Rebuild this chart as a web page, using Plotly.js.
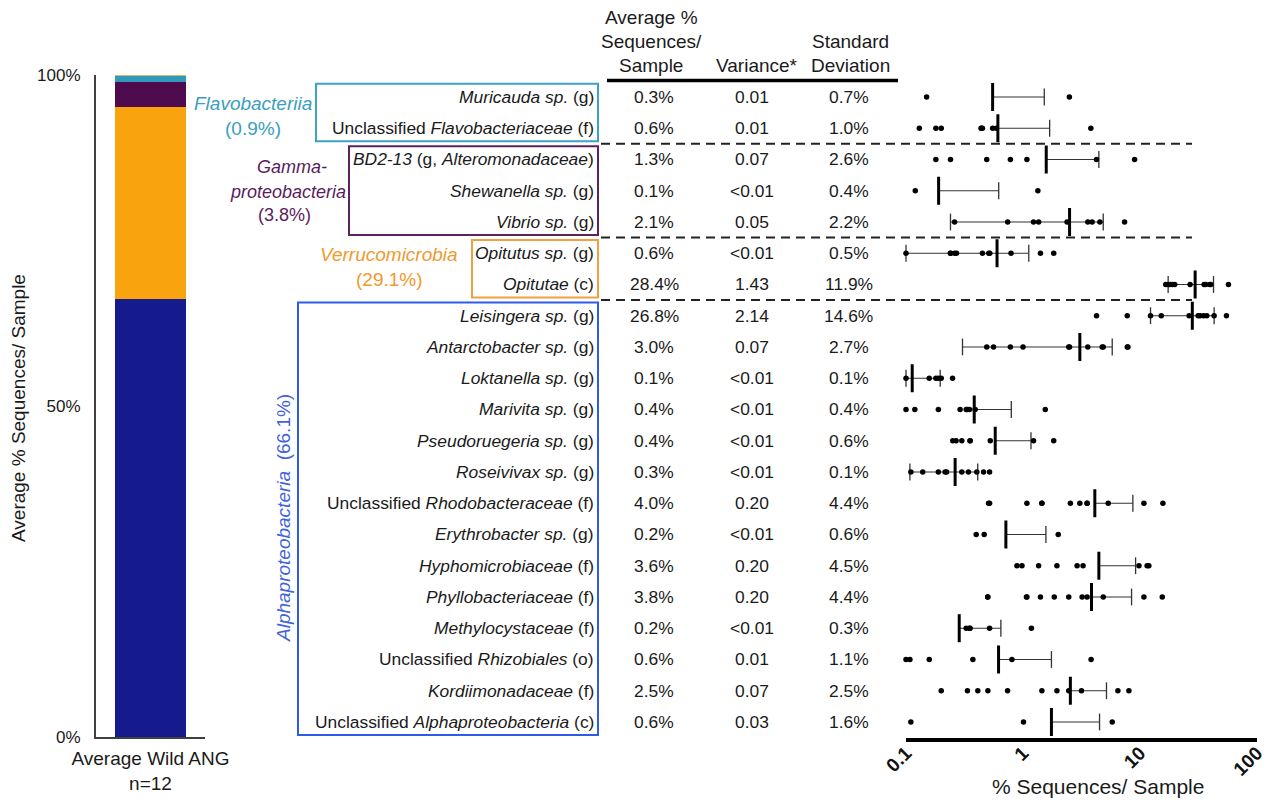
<!DOCTYPE html>
<html><head><meta charset="utf-8">
<script src="https://cdn.plot.ly/plotly-3.0.1.min.js"></script>
<style>html,body{margin:0;padding:0;background:#fff}#chart{width:1268px;height:800px}</style>
</head><body><div id="chart"></div>
<script>
// ---------------- DATA ----------------
const rowLabels = [
  '<i>Muricauda sp.</i> (g)',
  'Unclassified <i>Flavobacteriaceae</i> (f)',
  '<i>BD2-13</i> (g, <i>Alteromonadaceae</i>)',
  '<i>Shewanella sp.</i> (g)',
  '<i>Vibrio sp.</i> (g)',
  '<i>Opitutus sp.</i> (g)',
  '<i>Opitutae</i> (c)',
  '<i>Leisingera sp.</i> (g)',
  '<i>Antarctobacter sp.</i> (g)',
  '<i>Loktanella sp.</i> (g)',
  '<i>Marivita sp.</i> (g)',
  '<i>Pseudoruegeria sp.</i> (g)',
  '<i>Roseivivax sp.</i> (g)',
  'Unclassified <i>Rhodobacteraceae</i> (f)',
  '<i>Erythrobacter sp.</i> (g)',
  '<i>Hyphomicrobiaceae</i> (f)',
  '<i>Phyllobacteriaceae</i> (f)',
  '<i>Methylocystaceae</i> (f)',
  'Unclassified <i>Rhizobiales</i> (o)',
  '<i>Kordiimonadaceae</i> (f)',
  'Unclassified <i>Alphaproteobacteria</i> (c)'
];
const avgPct = ['0.3%','0.6%','1.3%','0.1%','2.1%','0.6%','28.4%','26.8%','3.0%','0.1%','0.4%','0.4%','0.3%','4.0%','0.2%','3.6%','3.8%','0.2%','0.6%','2.5%','0.6%'];
const variance = ['0.01','0.01','0.07','&lt;0.01','0.05','&lt;0.01','1.43','2.14','0.07','&lt;0.01','&lt;0.01','&lt;0.01','&lt;0.01','0.20','&lt;0.01','0.20','0.20','&lt;0.01','0.01','0.07','0.03'];
const stdDev = ['0.7%','1.0%','2.6%','0.4%','2.2%','0.5%','11.9%','14.6%','2.7%','0.1%','0.4%','0.6%','0.1%','4.4%','0.6%','4.5%','4.4%','0.3%','1.1%','2.5%','1.6%'];

// per-sample % sequences (non-zero samples shown on log axis)
const samplePoints = [
  [0.15, 2.49],
  [0.13, 0.18, 0.20, 0.44, 0.44, 0.45, 0.55, 0.59, 3.8],
  [0.18, 0.24, 0.49, 0.78, 1.08, 4.25, 8.99],
  [0.12, 1.34],
  [0.26, 0.74, 1.23, 1.36, 2.38, 3.58, 3.90, 4.54, 7.38],
  [0.10, 0.24, 0.24, 0.26, 0.27, 0.45, 0.51, 0.52, 0.79, 1.41, 1.83],
  [16.6, 17.4, 18.0, 18.9, 19.8, 26.8, 35.3, 36.5, 39.5, 40.3, 57.0],
  [4.25, 7.78, 12.3, 15.2, 26.3, 31.4, 32.6, 34.9, 37.2, 43.0, 54.8],
  [0.49, 0.56, 0.78, 1.0, 2.46, 2.50, 3.58, 4.75, 4.85, 7.78, 7.89],
  [0.10, 0.158, 0.18, 0.189, 0.20, 0.25],
  [0.10, 0.119, 0.189, 0.29, 0.327, 0.335, 0.349, 0.39, 1.55],
  [0.251, 0.268, 0.30, 0.353, 0.353, 0.525, 1.23, 1.83],
  [0.11, 0.139, 0.189, 0.216, 0.222, 0.30, 0.342, 0.403, 0.46, 0.518],
  [0.508, 0.518, 1.08, 1.45, 1.45, 2.54, 3.06, 3.53, 3.53, 5.35, 10.8, 15.7],
  [0.398, 0.466, 2.0],
  [0.888, 0.98, 1.36, 1.95, 2.90, 3.26, 9.8, 11.5, 11.9],
  [0.50, 0.50, 1.07, 1.08, 1.41, 1.85, 2.46, 3.20, 3.53, 4.85, 10.8, 15.5],
  [0.327, 0.349, 0.353, 0.518, 1.18],
  [0.10, 0.108, 0.158, 0.373, 0.804, 3.82],
  [0.20, 0.335, 0.411, 0.501, 0.738, 1.45, 1.95, 2.46, 3.16, 6.47, 8.04],
  [0.11, 1.01, 5.79]
];
const meanValues = [0.55, 0.61, 1.58, 0.19, 2.50, 0.60, 29.6, 28.0, 3.06, 0.113, 0.383, 0.579, 0.263, 4.11, 0.714, 4.45, 3.85, 0.285, 0.618, 2.54, 1.75];
const barLow  = [null, null, null, null, 0.24, 0.10, 17.4, 12.3, 0.304, 0.10, null, null, 0.108, null, null, null, null, null, null, null, null];
const barHigh = [1.52, 1.69, 4.45, 0.62, 4.85, 1.12, 42.5, 43.0, 5.79, 0.196, 0.794, 1.17, 0.41, 8.69, 1.57, 9.17, 8.47, 0.647, 1.75, 5.17, 4.51];

const groupNames = ['Flavobacteriia', 'Gammaproteobacteria', 'Verrucomicrobia', 'Alphaproteobacteria'];
const groupShare = [0.9, 3.8, 29.1, 66.1];
const groupFirstRow = [0, 2, 5, 7];
const groupLastRow = [1, 4, 6, 20];
const otherShare = 0.1;
const barCategory = ['Average Wild ANG<br>n=12'];
const yTickVals = [0, 50, 100];
const yTickText = ['0%', '50%', '100%'];
const tickVals = [0.1, 1, 10, 100];
const tickText = ['0.1', '1', '10', '100'];

// ---------------- STYLE / LAYOUT HELPERS ----------------
const W = 1268, H = 800;
const px = v => v / W;
const py = v => 1 - v / H;
const FONT = 'Liberation Sans, Arial, sans-serif';
const TXT = '#1a1a1a';
const barColors = ['#3399BB', '#4E0B4E', '#F9A40E', '#151B8C'];
const labelColors = ['#3A9EC0', '#5B1C5E', '#F2992E', '#3F63DE'];
const boxColors = ['#3BA3C3', '#5B2160', '#F0A040', '#2F5BE8'];
const boxLeftPx = [316, 349, 472, 298];

// ---------------- TRACES ----------------
const traces = [];
[3, 2, 1, 0].forEach(g => {
  traces.push({type: 'bar', x: barCategory, y: [groupShare[g]], name: groupNames[g],
    marker: {color: barColors[g], line: {width: 0}}, xaxis: 'x2', yaxis: 'y2', hoverinfo: 'name+y'});
});
traces.push({type: 'bar', x: barCategory, y: [otherShare], name: 'Other',
  marker: {color: '#D8B46A', line: {width: 0}}, xaxis: 'x2', yaxis: 'y2', hoverinfo: 'name+y'});

const ex = [], ey = [];
meanValues.forEach((m, i) => {
  ex.push(barLow[i] !== null ? barLow[i] : m, barHigh[i], null);
  ey.push(i, i, null);
});
traces.push({type: 'scatter', mode: 'lines', x: ex, y: ey, line: {color: '#333', width: 1.2},
  hoverinfo: 'skip', cliponaxis: false, xaxis: 'x', yaxis: 'y'});
const cx = [], cy = [];
barHigh.forEach((h, i) => { cx.push(h); cy.push(i); if (barLow[i] !== null) { cx.push(barLow[i]); cy.push(i); } });
traces.push({type: 'scatter', mode: 'markers', x: cx, y: cy, cliponaxis: false,
  marker: {symbol: 'line-ns', size: 12, line: {color: '#333', width: 1.3}}, hoverinfo: 'skip'});
const dx = [], dy = [];
samplePoints.forEach((arr, i) => arr.forEach(v => { dx.push(v); dy.push(i); }));
traces.push({type: 'scatter', mode: 'markers', x: dx, y: dy, cliponaxis: false,
  marker: {symbol: 'circle', size: 5.5, color: '#000'}, hoverinfo: 'x'});
traces.push({type: 'scatter', mode: 'markers', x: meanValues, y: meanValues.map((_, i) => i), cliponaxis: false,
  marker: {symbol: 'line-ns', size: 20, line: {color: '#000', width: 3}}, hoverinfo: 'x'});

// ---------------- ANNOTATIONS ----------------
const ann = [];
const A = (o) => ann.push(Object.assign({showarrow: false, xanchor: 'center', yanchor: 'middle',
  font: {family: FONT, size: 17.4, color: TXT}}, o));

rowLabels.forEach((t, i) => {
  A({text: t, xref: 'paper', yref: 'y', x: px(596), y: i, xanchor: 'right'});
  A({text: avgPct[i], xref: 'paper', yref: 'y', x: px(654), y: i});
  A({text: variance[i], xref: 'paper', yref: 'y', x: px(752), y: i});
  A({text: stdDev[i], xref: 'paper', yref: 'y', x: px(849), y: i});
});
const hdrFont = {family: FONT, size: 19, color: TXT};
[['Average %', 651, 18], ['Sequences/', 651, 42], ['Sample', 651, 65],
 ['Variance*', 757, 65], ['Standard', 850, 42], ['Deviation', 850, 65]].forEach(h => {
  A({text: h[0], xref: 'paper', yref: 'paper', x: px(h[1]), y: py(h[2]), font: hdrFont});
});
const gFont = (c, s) => ({family: FONT, size: s || 19, color: c});
A({text: '<i>Flavobacteriia</i>', xref: 'paper', yref: 'paper', x: px(253), y: py(103), font: gFont(labelColors[0])});
A({text: '(' + groupShare[0].toFixed(1) + '%)', xref: 'paper', yref: 'paper', x: px(253), y: py(128), font: gFont(labelColors[0])});
A({text: '<i>Gamma-</i>', xref: 'paper', yref: 'paper', x: px(292), y: py(167), font: gFont(labelColors[1], 18)});
A({text: '<i>proteobacteria</i>', xref: 'paper', yref: 'paper', x: px(288), y: py(192), font: gFont(labelColors[1], 18)});
A({text: '(' + groupShare[1].toFixed(1) + '%)', xref: 'paper', yref: 'paper', x: px(284), y: py(215), font: gFont(labelColors[1], 18)});
A({text: '<i>Verrucomicrobia</i>', xref: 'paper', yref: 'paper', x: px(389), y: py(255), font: gFont(labelColors[2])});
A({text: '(' + groupShare[2].toFixed(1) + '%)', xref: 'paper', yref: 'paper', x: px(390), y: py(279), font: gFont(labelColors[2])});
A({text: '<i>Alphaproteobacteria</i> &nbsp;(' + groupShare[3].toFixed(1) + '%)', xref: 'paper', yref: 'paper',
   x: px(283), y: py(518), textangle: -90, font: gFont(labelColors[3])});
A({text: 'Average % Sequences/ Sample', xref: 'paper', yref: 'paper', x: px(18), y: py(408), textangle: -90,
   font: {family: FONT, size: 19, color: TXT}});
A({text: '% Sequences/ Sample', xref: 'paper', yref: 'paper', x: px(1098), y: py(786),
   font: {family: FONT, size: 21, color: TXT}});

// ---------------- SHAPES ----------------
const shapes = [];
groupNames.forEach((g, k) => {
  shapes.push({type: 'rect', xref: 'paper', yref: 'y', x0: px(boxLeftPx[k]), x1: px(598),
    y0: groupFirstRow[k] - 0.42, y1: groupLastRow[k] + 0.42, line: {color: boxColors[k], width: 2}, fillcolor: 'rgba(0,0,0,0)'});
  if (k < groupNames.length - 1) {
    shapes.push({type: 'line', xref: 'paper', yref: 'y', x0: px(601), x1: px(1192),
      y0: groupLastRow[k] + 0.5, y1: groupLastRow[k] + 0.5, line: {color: '#222', width: 2, dash: '9px,6px'}});
  }
});
shapes.push({type: 'line', xref: 'paper', yref: 'paper', x0: px(607), x1: px(898), y0: py(80.5), y1: py(80.5),
  line: {color: '#000', width: 3.5}});

// ---------------- LAYOUT ----------------
const layout = {
  width: W, height: H, margin: {l: 0, r: 0, t: 0, b: 0},
  paper_bgcolor: '#fff', plot_bgcolor: 'rgba(0,0,0,0)', showlegend: false,
  barmode: 'stack', bargap: 0.34,
  font: {family: FONT, color: TXT},
  xaxis: {type: 'log', range: [-1, 2], domain: [px(906), px(1257)], anchor: 'y',
    showline: true, linecolor: '#000', linewidth: 4, showgrid: false, zeroline: false, ticks: '',
    tickvals: tickVals, ticktext: tickText, tickangle: -45, ticklabelstandoff: -7,
    tickfont: {family: FONT, size: 19, weight: 'bold', color: '#111'}},
  yaxis: {range: [20.5, -0.6], domain: [py(737.6), py(78.25)], anchor: 'x', visible: false, showgrid: false, zeroline: false},
  xaxis2: {domain: [px(96), px(205)], anchor: 'y2', showline: true, linecolor: '#404040', linewidth: 2,
    ticks: '', showgrid: false, zeroline: false, ticklabelstandoff: 3, tickfont: {family: FONT, size: 19, color: TXT}},
  yaxis2: {domain: [py(737), py(75)], anchor: 'x2', range: [0, 100], showline: true, linecolor: '#404040', linewidth: 2,
    tickvals: yTickVals, ticktext: yTickText, ticks: '', showgrid: false, zeroline: false,
    tickfont: {family: FONT, size: 17, color: TXT}, ticklabelstandoff: 10},
  annotations: ann,
  shapes: shapes
};

Plotly.newPlot('chart', traces, layout, {displayModeBar: false, staticPlot: true});
</script>
</body></html>
